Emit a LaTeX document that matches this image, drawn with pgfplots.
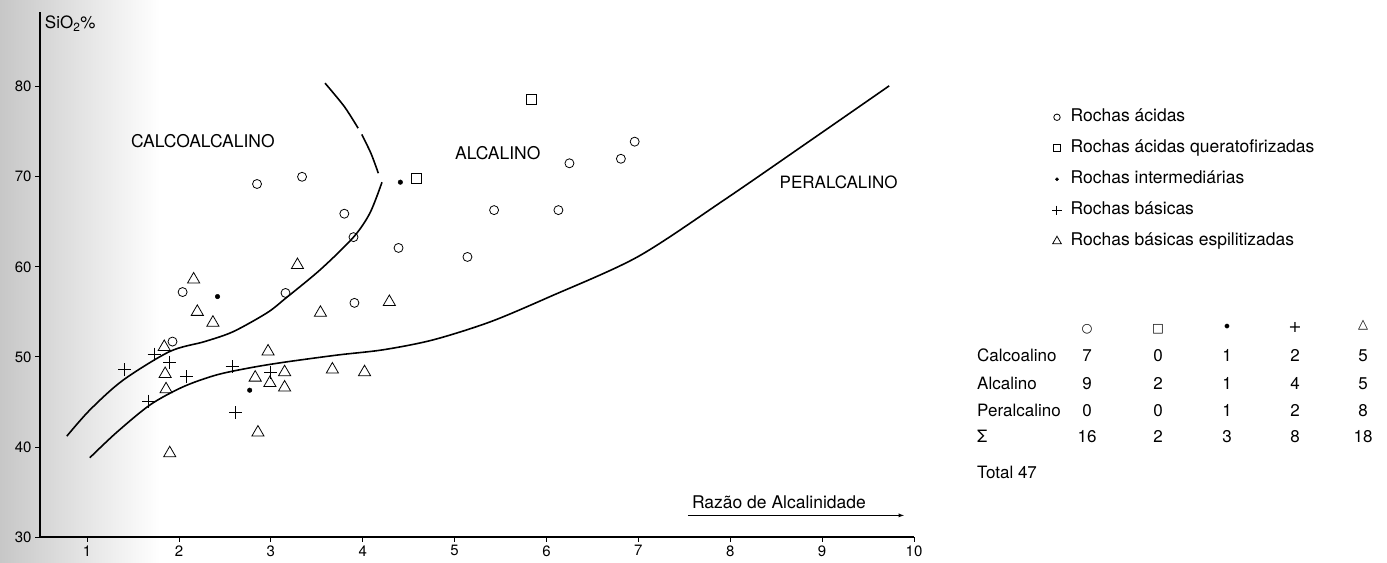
\documentclass[border=0pt]{standalone}
\usepackage{fontspec}
\setmainfont{TeX Gyre Heros}
\newfontfamily\symf{DejaVu Sans}
\usepackage{pgfplots}
\pgfplotsset{compat=1.18}
\begin{document}
\begin{tikzpicture}
\path[use as bounding box] (0,0) rectangle (1387bp,563bp);
\shade[left color=black!22, right color=white, draw=none] (0,0) rectangle (160bp,563bp);
\begin{axis}[
  at={(40bp,26bp)}, anchor=south west,
  scale only axis, width=874bp, height=525bp,
  xmin=0.488, xmax=10, ymin=30, ymax=88.3,
  axis lines=left, axis line style={-, line width=1.1pt},
  xtick={1,2,...,10}, ytick={30,40,...,80},
  tick align=outside, major tick length=5bp,
  tick style={black, line width=0.8pt},
  ticklabel style={font=\fontsize{15bp}{17bp}\selectfont},
  /pgf/number format/assume math mode=true,
  clip=false,
  legend image code/.code={\draw[#1,every mark/.append style={scale=0.72}] plot coordinates {(0bp,0bp)};},
  legend style={at={(axis description cs:1.158,0.817)}, anchor=north west, draw=none, fill=none,
    inner sep=0pt, font=\fontsize{17.5bp}{20bp}\selectfont, row sep=13bp,
    nodes={inner sep=1bp, text height=12.5bp, text depth=3.5bp},
    /tikz/every odd column/.append style={column sep=8bp}},
  legend cell align=left,
]
% boundary curves
\addplot[smooth, line width=1.6pt, forget plot] coordinates {
 (0.78,41.2) (1.03,44.1) (1.39,47.4) (1.90,50.6) (2.28,51.7) (2.59,52.8) (2.96,54.9)
 (3.16,56.5) (3.54,59.7) (3.90,63.3) (4.08,66.0) (4.21,69.4)};
\addplot[smooth, line width=1.6pt, forget plot] coordinates {
 (4.17,70.4) (4.09,72.6) (3.99,74.7)};
\addplot[smooth, line width=1.6pt, forget plot] coordinates {
 (3.95,75.4) (3.80,77.8) (3.59,80.4)};
\addplot[smooth, line width=1.6pt, forget plot] coordinates {
 (1.03,38.8) (1.32,41.6) (1.69,44.7) (2.05,46.7) (2.41,48.0) (2.78,48.8) (3.14,49.4)
 (3.72,50.2) (4.23,50.8) (4.77,51.9) (5.39,53.9) (6.04,56.7) (6.99,61.1) (7.93,67.4)
 (8.84,73.8) (9.73,80.1)};
% data
\addplot[only marks, mark=o, mark size=4.5bp, line width=0.8pt] coordinates {
 (2.85,69.2) (3.34,70.0) (3.80,65.9) (3.90,63.3) (4.39,62.1) (2.04,57.2) (3.16,57.1)
 (3.91,56.0) (1.93,51.7) (5.14,61.1) (5.43,66.3) (6.13,66.3) (6.25,71.5) (6.81,72.0) (6.96,73.9)};
\addlegendentry{Rochas ácidas}
\addplot[only marks, mark=square, mark size=5bp, line width=0.8pt] coordinates {
 (4.58,69.8) (5.84,78.6)};
\addlegendentry{Rochas ácidas queratofirizadas}
\addplot[only marks, mark=*, mark size=2.3bp] coordinates {
 (2.42,56.7) (4.41,69.4) (2.77,46.3)};
\addlegendentry{Rochas intermediárias}
\addplot[only marks, mark=+, mark size=6.5bp, line width=1pt] coordinates {
 (1.73,50.3) (1.90,49.4) (1.41,48.6) (2.08,47.8) (2.58,48.9) (3.00,48.3) (1.67,45.1) (2.62,43.8)};
\addlegendentry{Rochas básicas}
\addplot[only marks, mark=triangle, mark size=7bp, line width=0.8pt] coordinates {
 (3.29,60.2) (2.16,58.6) (4.29,56.1) (2.20,55.0) (3.54,54.9) (2.37,53.8) (1.84,51.1)
 (1.85,48.1) (2.97,50.6) (2.83,47.7) (3.15,48.3) (2.99,47.1) (3.15,46.6) (3.67,48.6)
 (4.02,48.3) (1.86,46.4) (2.86,41.6) (1.90,39.3)};
\addlegendentry{Rochas básicas espilitizadas}
% labels
\node[font=\fontsize{17.5bp}{20bp}\selectfont] at (axis cs:2.26,74.0) {CALCOALCALINO};
\node[font=\fontsize{17.5bp}{20bp}\selectfont] at (axis cs:5.47,72.6) {ALCALINO};
\node[font=\fontsize{17bp}{20bp}\selectfont] at (axis cs:9.18,69.4) {PERALCALINO};
\node[anchor=west, font=\fontsize{17bp}{20bp}\selectfont, inner sep=0pt] at (axis cs:0.54,87.0) {SiO\textsubscript{2}\%};
\node[font=\fontsize{17.5bp}{20bp}\selectfont] at (axis cs:8.53,33.9) {Razão de Alcalinidade};
\draw[-latex, line width=0.8pt] (axis cs:7.54,32.4) -- (axis cs:9.89,32.4);
\end{axis}
% count table
\begin{scope}[every node/.style={font=\fontsize{17bp}{20bp}\selectfont, inner sep=0pt}]
\node[font=\symf\fontsize{12.5bp}{16bp}\selectfont, anchor=mid] at (1087bp,233bp) {○};
\node[font=\symf\fontsize{12.5bp}{16bp}\selectfont, anchor=mid] at (1158bp,233bp) {□};
\node[font=\symf\fontsize{16bp}{16bp}\selectfont, anchor=mid] at (1227bp,233bp) {•};
\node[font=\symf\fontsize{16bp}{16bp}\selectfont, anchor=mid] at (1295bp,233bp) {+};
\node[font=\symf\fontsize{13bp}{16bp}\selectfont, anchor=mid] at (1363bp,237bp) {△};
\node[anchor=mid west] at (977bp,204bp) {Calcoalino};
\node[anchor=mid west] at (977bp,176bp) {Alcalino};
\node[anchor=mid west] at (977bp,149bp) {Peralcalino};
\node[anchor=mid west] at (977bp,123bp) {Σ};
\node[anchor=mid west] at (977bp,87bp) {Total 47};
\foreach \y/\a/\b/\c/\d/\e in {204/7/0/1/2/5, 176/9/2/1/4/5, 149/0/0/1/2/8, 123/16/2/3/8/18}{
  \node[anchor=mid] at (1087bp,\y bp) {\a};
  \node[anchor=mid] at (1158bp,\y bp) {\b};
  \node[anchor=mid] at (1227bp,\y bp) {\c};
  \node[anchor=mid] at (1295bp,\y bp) {\d};
  \node[anchor=mid] at (1363bp,\y bp) {\e};
}
\end{scope}
\end{tikzpicture}
\end{document}
